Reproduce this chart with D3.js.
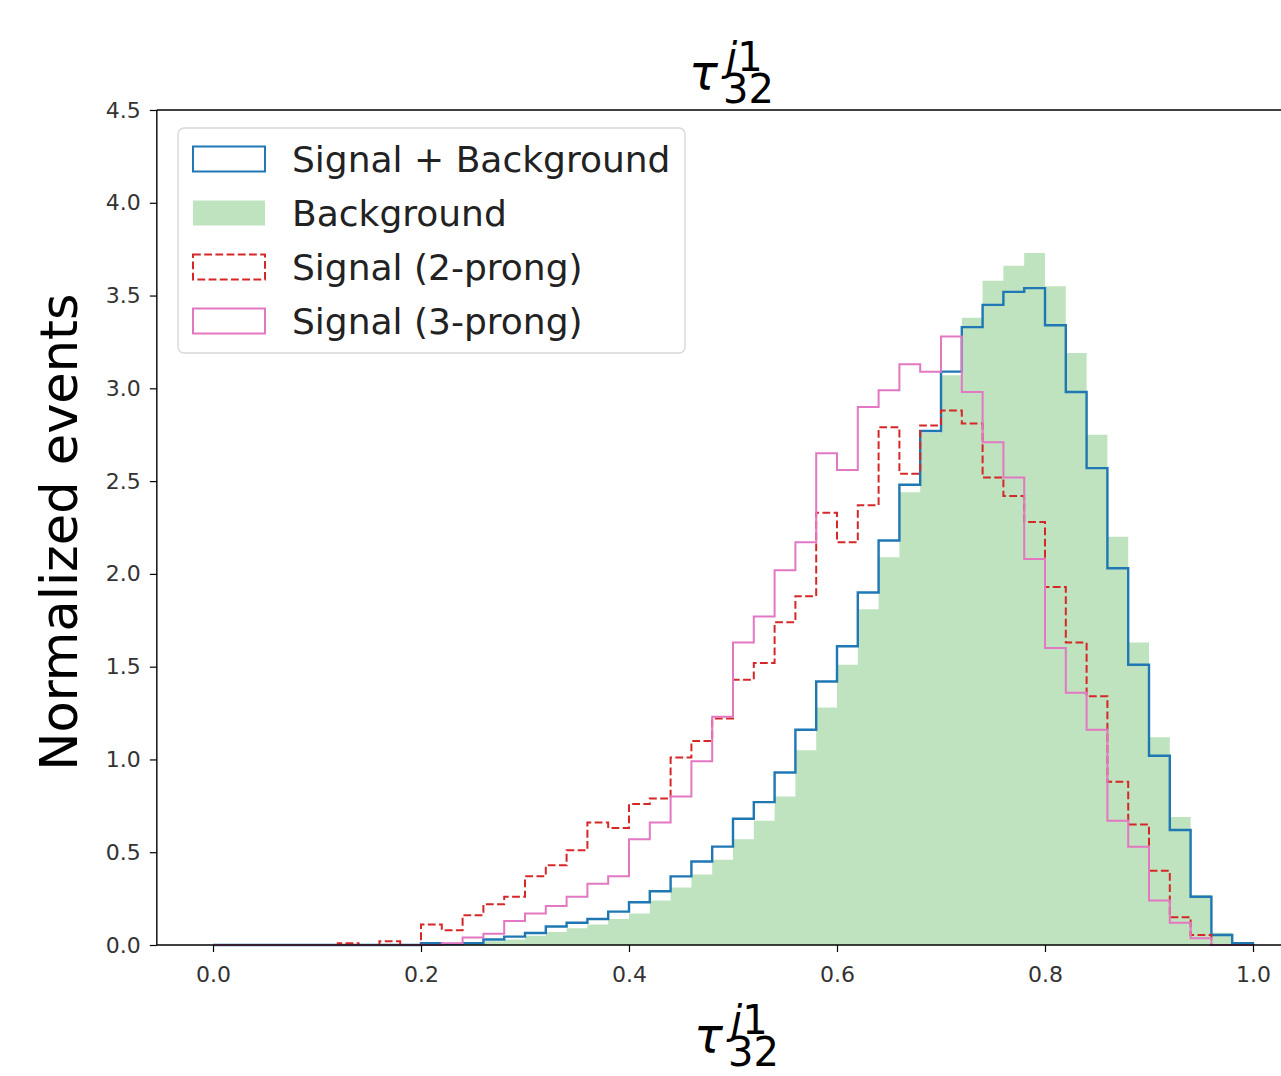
<!DOCTYPE html>
<html>
<head>
<meta charset="utf-8">
<script src="https://cdn.jsdelivr.net/npm/d3@7"></script>
<style>
 body { margin: 0; background: #fff; }
 svg { display: block; font-family: "DejaVu Sans", sans-serif; }
</style>
</head>
<body>
<svg width="1281" height="1076"></svg>
<script>
// 50 bins of width 0.02 between 0 and 1
const binEdges = d3.range(51).map(i => +(i * 0.02).toFixed(2));

const background = [
 0, 0, 0, 0, 0, 0, 0, 0, 0, 0,
 0, 0, 0.005, 0.02, 0.03, 0.05, 0.07, 0.09, 0.11, 0.14,
 0.17, 0.24, 0.31, 0.38, 0.46, 0.57, 0.67, 0.8, 1.05, 1.28,
 1.51, 1.81, 2.09, 2.44, 2.76, 3.07, 3.38, 3.58, 3.66, 3.73,
 3.55, 3.19, 2.75, 2.2, 1.63, 1.12, 0.69, 0.27, 0.066, 0
];

const sigPlusBkg = [
 0, 0, 0, 0, 0, 0, 0, 0, 0, 0,
 0.01, 0.005, 0.01, 0.03, 0.045, 0.065, 0.1, 0.12, 0.14, 0.18,
 0.23, 0.29, 0.37, 0.45, 0.53, 0.68, 0.77, 0.93, 1.16, 1.42,
 1.61, 1.9, 2.18, 2.48, 2.77, 3.09, 3.33, 3.45, 3.52, 3.54,
 3.34, 2.98, 2.57, 2.03, 1.51, 1.02, 0.62, 0.26, 0.054, 0.01
];

const signal2prong = [
 0, 0, 0, 0, 0, 0, 0.01, 0, 0.02, 0,
 0.11, 0.08, 0.16, 0.22, 0.26, 0.37, 0.43, 0.51, 0.66, 0.63,
 0.76, 0.79, 1.01, 1.1, 1.22, 1.43, 1.52, 1.74, 1.88, 2.33,
 2.17, 2.37, 2.79, 2.54, 2.8, 2.88, 2.81, 2.52, 2.42, 2.28,
 1.93, 1.63, 1.34, 0.88, 0.65, 0.4, 0.15, 0.054, 0, 0
];

const signal3prong = [
 0, 0, 0, 0, 0, 0, 0, 0, 0, 0,
 0, 0.01, 0.04, 0.06, 0.13, 0.17, 0.21, 0.26, 0.33, 0.37,
 0.57, 0.66, 0.8, 0.99, 1.23, 1.63, 1.77, 2.02, 2.17, 2.65,
 2.56, 2.9, 2.99, 3.13, 3.09, 3.28, 2.98, 2.71, 2.52, 2.08,
 1.6, 1.36, 1.16, 0.67, 0.53, 0.24, 0.12, 0.036, 0, 0
];

const xTicks = [0, 0.2, 0.4, 0.6, 0.8, 1.0];
const yTicks = [0, 0.5, 1, 1.5, 2, 2.5, 3, 3.5, 4, 4.5];
const legendLabels = [
 "Signal + Background",
 "Background",
 "Signal (2-prong)",
 "Signal (3-prong)"
];

const svg = d3.select("svg");

const xScale = d3.scaleLinear().domain([0, 1]).range([213, 1253]);
const yScale = d3.scaleLinear().domain([0, 4.5]).range([945, 110]);

const xLeft = xScale(-0.054);
const xRight = xScale(1.054);

const toPoints = vals => {
 const pts = vals.map((v, i) => ({ x: binEdges[i], y: v }));
 pts.push({ x: binEdges[binEdges.length - 1], y: vals[vals.length - 1] });
 return pts;
};

const stepLine = d3
 .line()
 .x(d => xScale(d.x))
 .y(d => yScale(d.y))
 .curve(d3.curveStepAfter);

const stepArea = d3
 .area()
 .x(d => xScale(d.x))
 .y0(yScale(0))
 .y1(d => yScale(d.y))
 .curve(d3.curveStepAfter);

// outline like histtype="step": up from the baseline and back down at the end
const outline = vals => {
 const pts = toPoints(vals);
 pts.unshift({ x: binEdges[0], y: 0 });
 pts.push({ x: binEdges[binEdges.length - 1], y: 0 });
 return pts;
};

// background filled
svg
 .append("path")
 .attr("d", stepArea(toPoints(background)))
 .attr("fill", "#2ca02c")
 .attr("fill-opacity", 0.3);

svg
 .append("path")
 .attr("d", stepLine(outline(sigPlusBkg)))
 .attr("fill", "none")
 .attr("stroke", "#1f77b4")
 .attr("stroke-width", 2.4);

svg
 .append("path")
 .attr("d", stepLine(outline(signal2prong)))
 .attr("fill", "none")
 .attr("stroke", "#d62728")
 .attr("stroke-width", 2)
 .attr("stroke-dasharray", "7.8,3.4");

svg
 .append("path")
 .attr("d", stepLine(outline(signal3prong)))
 .attr("fill", "none")
 .attr("stroke", "#e377c2")
 .attr("stroke-width", 2);

// spines
const spines = svg.append("g").attr("stroke", "#000").attr("stroke-width", 1.4);
spines.append("line").attr("x1", xLeft).attr("x2", xRight).attr("y1", yScale(0)).attr("y2", yScale(0));
spines.append("line").attr("x1", xLeft).attr("x2", xRight).attr("y1", yScale(4.5)).attr("y2", yScale(4.5));
spines.append("line").attr("x1", xLeft).attr("x2", xLeft).attr("y1", yScale(0)).attr("y2", yScale(4.5));
spines.append("line").attr("x1", xRight).attr("x2", xRight).attr("y1", yScale(0)).attr("y2", yScale(4.5));

const xAxis = svg
 .append("g")
 .attr("transform", `translate(0,${yScale(0)})`)
 .call(
  d3
   .axisBottom(xScale)
   .tickValues(xTicks)
   .tickFormat(d3.format(".1f"))
   .tickSize(7)
   .tickPadding(14)
 );

const yAxis = svg
 .append("g")
 .attr("transform", `translate(${xLeft},0)`)
 .call(
  d3
   .axisLeft(yScale)
   .tickValues(yTicks)
   .tickFormat(d3.format(".1f"))
   .tickSize(7)
   .tickPadding(9)
 );

[xAxis, yAxis].forEach(ax => {
 ax.select(".domain").remove();
 ax.selectAll(".tick line").attr("stroke", "#000").attr("stroke-width", 1.2);
 ax
  .selectAll(".tick text")
  .attr("fill", "#333")
  .style("font-size", "22px")
  .style("font-family", "DejaVu Sans");
});

// tau_32^j1 in mathtext style, one text element: sup stacked over sub
const tauLabel = (x0, baseline) => {
 const t = svg
  .append("text")
  .attr("x", x0)
  .attr("y", baseline)
  .attr("fill", "#000");
 t.append("tspan").style("font-size", "48px").style("font-style", "italic").text("τ");
 t
  .append("tspan")
  .attr("x", x0 + 37)
  .attr("dy", -18)
  .style("font-size", "40px")
  .style("font-style", "italic")
  .text("j");
 t.append("tspan").style("font-size", "40px").text("1");
 t
  .append("tspan")
  .attr("x", x0 + 34)
  .attr("dy", 32)
  .style("font-size", "40px")
  .text("32");
};

tauLabel(689, 89);
tauLabel(694, 1052);

svg
 .append("text")
 .attr("transform", "translate(77,532) rotate(-90)")
 .attr("text-anchor", "middle")
 .style("font-size", "51px")
 .attr("fill", "#000")
 .text("Normalized events");

// legend
const legend = svg.append("g");
legend
 .append("rect")
 .attr("x", 178)
 .attr("y", 128)
 .attr("width", 507)
 .attr("height", 225)
 .attr("rx", 6)
 .attr("fill", "#fff")
 .attr("fill-opacity", 0.8)
 .attr("stroke", "#d8d8d8")
 .attr("stroke-width", 1.4);

const handleStyles = [
 { fill: "none", stroke: "#1f77b4", dash: null },
 { fill: "#2ca02c", stroke: "none", dash: null },
 { fill: "none", stroke: "#d62728", dash: "7.8,3.4" },
 { fill: "none", stroke: "#e377c2", dash: null }
];

const rows = legend
 .selectAll(".row")
 .data(legendLabels)
 .enter()
 .append("g")
 .attr("class", "row")
 .attr("transform", (d, i) => `translate(0,${159 + i * 54})`);

rows
 .append("rect")
 .attr("x", 193)
 .attr("y", -12.5)
 .attr("width", 72)
 .attr("height", 25)
 .attr("fill", (d, i) => handleStyles[i].fill)
 .attr("fill-opacity", (d, i) => (i === 1 ? 0.3 : 1))
 .attr("stroke", (d, i) => handleStyles[i].stroke)
 .attr("stroke-width", 2)
 .attr("stroke-dasharray", (d, i) => handleStyles[i].dash);

rows
 .append("text")
 .attr("x", 292)
 .attr("y", 13)
 .attr("fill", "#222")
 .style("font-size", "36px")
 .text(d => d);
</script>
</body>
</html>
